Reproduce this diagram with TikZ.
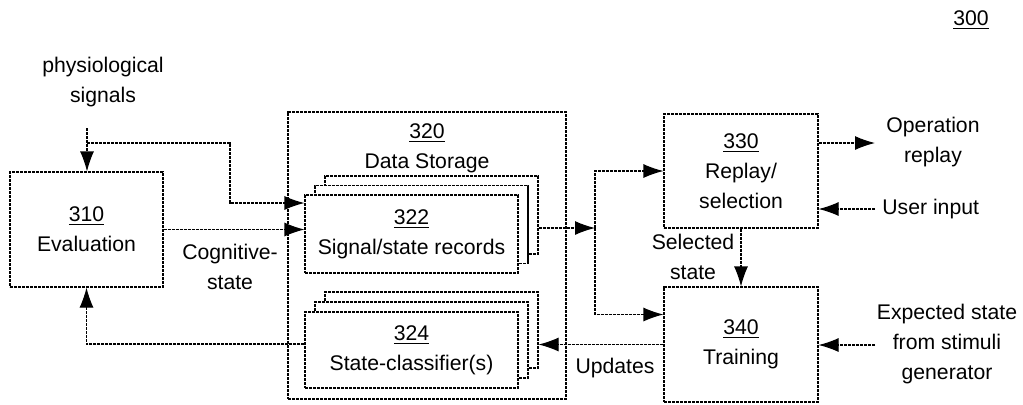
\documentclass[tikz,border=0pt]{standalone}
\usepackage{fontspec}
\setmainfont{Liberation Sans}
\usetikzlibrary{arrows.meta}

\begin{document}
\begin{tikzpicture}[x=0.5pt, y=-0.5pt, >={Latex[length=10pt,width=7pt]},
      every node/.style={font=\fontsize{10.6}{15}\selectfont, align=center, inner sep=0pt},
      blk/.style={draw, line width=0.55pt, dash pattern=on 1.6pt off 0.4pt, fill=white},
      ln/.style={line width=0.55pt, dash pattern=on 1.6pt off 0.4pt}]
      \useasboundingbox (0,0) rectangle (1023,404);
      \node at (971,20) (fig){\underline{300}};
      \node at (86.5,229.5)[blk, minimum width=76.5pt, minimum height=57.5pt] (eval){\underline{310}\\Evaluation};
      \node at (427,255.5)[blk, minimum width=139pt, minimum height=143.5pt] (stor){};
      \node at (427,148) (storlbl){\underline{320}\\Data Storage};
      \node at (431.5,215)[blk, minimum width=106.5pt, minimum height=39pt] (recb){};
      \node at (421.5,224.5)[blk, minimum width=106.5pt, minimum height=39pt] (recm){};
      \node at (411.5,234)[blk, minimum width=106.5pt, minimum height=39pt] (rec){\underline{322}\\Signal/state records};
      \node at (431.5,330)[blk, minimum width=106.5pt, minimum height=38pt] (clsb){};
      \node at (421.5,340)[blk, minimum width=106.5pt, minimum height=38pt] (clsm){};
      \node at (411.5,350)[blk, minimum width=106.5pt, minimum height=38pt] (cls){\underline{324}\\State-classifier(s)};
      \node at (741,171)[blk, minimum width=77pt, minimum height=57pt] (rep){\underline{330}\\Replay/\\selection};
      \node at (741,344.5)[blk, minimum width=77pt, minimum height=57.5pt] (train){\underline{340}\\Training};
      \node at (103,82) (phys){physiological\\signals};
      \node at (230,267) (cog){Cognitive-\\state};
      \node at (693,257) (sel){Selected\\state};
      \node at (615,368) (upd){Updates};
      \node at (933,142) (opr){Operation\\replay};
      \node at (882,209)[anchor=west] (usr){User input};
      \node at (947,344) (exp){Expected state\\from stimuli\\generator};
      \coordinate (j0) at (87,128);
      \coordinate (j1) at (87,143);
      \coordinate (j2) at (230,203);
      \coordinate (j4) at (595,228);
      \coordinate (c1) at (875,143);
      \coordinate (c2) at (875,209);
      \coordinate (c3) at (875,345);
      \draw[ln,->] (j0) -- (j0 |- eval.north);
      \draw[ln,->] (j1) -| (j2) -- (j2 -| rec.west);
      \draw[ln,->] (eval.east) -- (eval.east -| rec.west);
      \draw[ln,->] ([yshift=3pt]cls.west) -| (eval.south);
      \draw[ln,->] (j4 -| recb.east) -- (j4);
      \draw[ln,->] (j4) |- (rep.west);
      \draw[ln,->] (j4) |- ([yshift=15pt]train.west);
      \draw[ln,->] (rep.south) -- (train.north);
      \draw[ln,->] (c1 -| rep.east) -- (c1);
      \draw[ln,->] (c2) -- (c2 -| rep.east);
      \draw[ln,->] (c3) -- (c3 -| train.east);
      \draw[ln,->] (train.west) -- (train.west -| clsb.east);
\end{tikzpicture}
\end{document}
